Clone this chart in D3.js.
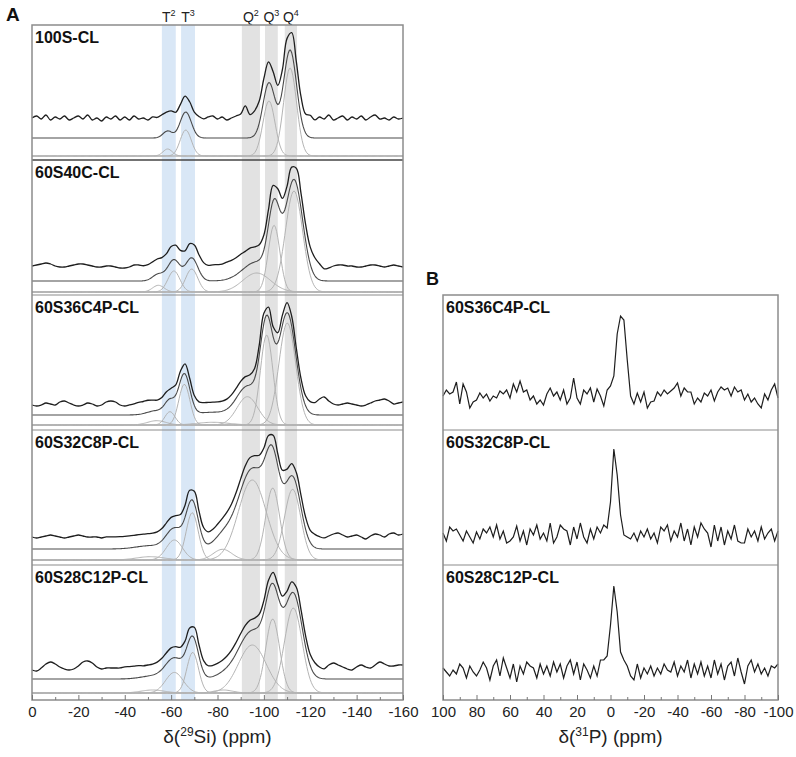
<!DOCTYPE html>
<html>
<head>
<meta charset="utf-8">
<script src="https://cdnjs.cloudflare.com/ajax/libs/d3/7.8.5/d3.min.js"></script>
<style>
  body { margin: 0; background: #fff; }
  text { font-family: "Liberation Sans", Arial, sans-serif; }
</style>
</head>
<body>
<svg width="796" height="757"></svg>
<script>
// ---- data ----
const siSamples = ["100S-CL", "60S40C-CL", "60S36C4P-CL", "60S32C8P-CL", "60S28C12P-CL"];

// fitted components per sample: [ppm, height, width]
const siComponents = [
  [[-58.5, 7, 2.0], [-66.3, 26, 2.4], [-102.2, 55, 2.6], [-111.3, 88, 2.8]],
  [[-54.5, 6.7, 2.5], [-61.2, 21, 2.6], [-68.9, 23, 2.6], [-96.9, 19, 6], [-104.4, 66.7, 2.5], [-113, 101, 3.7]],
  [[-53.8, 4.3, 4], [-59.5, 13.3, 2.2], [-65.7, 40.7, 2.4], [-78, 2.7, 7], [-92.9, 28.3, 4.5], [-101.2, 90, 2.7], [-110.1, 102, 3.6]],
  [[-51, 3.3, 6], [-61.4, 20, 3.5], [-69.1, 47.3, 2.6], [-82.2, 10.7, 4], [-95, 80, 6], [-103.8, 72, 3.0], [-112.4, 70.7, 3.5]],
  [[-52, 3, 5], [-61.4, 20.6, 3.8], [-69.3, 40.6, 2.5], [-82.5, 3, 4], [-95, 48, 6], [-103.8, 74, 3.0], [-112.7, 85, 3.8]]
];

// residual of the measured 29Si spectrum vs the fit, every 2 ppm from 0 to -160
const siResidual = [
  [0,2,-1,3,-2,1,-1,2,-2,0,
   2,-1,3,-2,0,-3,1,-1,2,-2,
   1,-2,2,-1,0,-2,1,0,0,-1,
   1,-1,-3,-4,-4,-2,0,-1,1,2,
   -1,1,-2,0,2,4,12,3,4,2,
   1,1,0,-1,0,0,0,1,0,-1,
   2,-2,1,-1,3,-2,0,2,-2,1,
   -1,2,-2,1,3,-1,0,-2,1,-1,
   0],
  [0,1,2,3,2,0,-1,-1,0,1,
   2,2,1,0,-1,-1,0,0,-1,-2,
   -2,-1,1,1,0,0,0,0,0,0,
   0,0,0,-1,0,0,0,0,0,1,
   1,1,2,2,2,2,1,1,0,0,
   0,0,0,0,0,0,0,0,0,1,
   2,3,1,-3,-2,0,1,1,0,0,
   -1,-1,0,1,1,0,-1,0,1,0,
   -1],
  [0,-1,0,2,1,0,3,4,2,0,
   -1,0,2,1,-1,0,3,4,3,0,
   -1,0,1,2,2,2,1,0,0,0,
   0,0,0,0,0,0,0,0,0,0,
   0,0,0,0,0,0,0,0,0,0,
   0,0,0,0,0,0,0,0,0,0,
   1,2,6,8,4,1,0,1,2,1,
   0,-1,0,2,4,5,6,4,1,2,
   3],
  [0,-1,0,1,2,1,0,-1,0,1,
   2,1,0,0,0,-1,0,0,0,0,
   0,0,0,0,0,0,0,0,0,0,
   0,0,0,0,0,0,0,0,0,0,
   0,0,0,0,0,0,0,0,0,0,
   0,0,0,0,0,0,0,0,0,0,
   0,1,0,-1,1,3,4,2,0,1,
   2,0,-2,1,3,2,0,3,4,2,
   3],
  [-2,-3,0,4,6,4,1,-1,-2,-1,
   2,6,7,5,1,-1,0,0,0,0,
   1,1,1,1,0,0,0,0,0,0,
   0,0,0,0,0,0,0,0,0,0,
   0,0,0,0,0,0,0,0,0,0,
   0,0,0,0,0,0,0,0,0,0,
   0,1,0,-1,3,5,3,1,-1,-2,
   1,3,1,0,3,6,4,2,2,3,
   3]
];

// shaded regions [from ppm, to ppm] and their labels
const siBands = [[-56, -62], [-64.3, -70.3], [-90.5, -98.3], [-100.5, -106], [-109, -114.3]];
const bandLetters = ["T", "T", "Q", "Q", "Q"];
const bandSups = ["2", "3", "2", "3", "4"];

const pSamples = ["60S36C4P-CL", "60S32C8P-CL", "60S28C12P-CL"];
// 31P spectra, every 2 ppm from 100 to -100
const pSpectra = [
  [0,6,2,4,14,-8,12,4,-12,-6,
   -4,3,-2,2,-5,0,-2,5,2,6,
   -2,12,4,15,4,6,-4,0,-8,-4,
   -9,2,8,0,4,-4,6,-8,-2,18,
   -2,-8,6,2,8,-6,7,0,-10,6,
   10,20,62,80,76,36,0,-8,3,-6,
   4,-12,-6,-5,4,0,6,2,5,8,
   13,0,8,4,4,-8,-2,-6,3,0,
   6,-5,4,9,6,8,0,9,4,6,
   -4,2,-6,-2,-8,-12,2,-4,6,12,
   -2],
  [2,-6,8,4,6,0,-6,4,-2,-8,
   3,-4,6,2,8,-2,10,-4,4,-8,
   -6,-2,9,-6,4,-10,6,0,10,-4,
   2,-6,12,-8,-2,10,6,4,-10,8,
   -4,12,-2,-8,6,-4,8,2,10,7,
   33,86,60,20,0,-2,-4,2,-6,4,
   -2,6,-4,2,-8,8,4,10,-6,4,
   -2,12,-6,6,-10,8,-2,12,6,2,
   -12,10,-6,8,-10,4,-4,10,-6,-8,
   -8,6,-2,4,-6,8,-4,2,6,-6,
   4],
  [2,-2,-6,0,-4,6,2,-8,4,-2,
   -6,0,8,2,-10,4,10,-6,12,2,
   -8,6,-12,4,-4,8,4,2,-8,6,
   -4,4,-6,8,-2,6,-8,4,10,-4,
   8,-10,6,0,-8,4,-6,10,10,14,
   45,84,58,18,10,4,-6,-10,6,-8,
   2,-4,4,-6,2,-4,6,0,-2,8,
   -6,4,-2,10,-8,6,-4,8,-6,4,
   -8,10,-4,6,-10,4,8,-6,12,-2,
   -14,4,10,-2,6,-4,2,-6,4,2,
   6]
];

const siTicks = [0, -20, -40, -60, -80, -100, -120, -140, -160];
const pTicks = [100, 80, 60, 40, 20, 0, -20, -40, -60, -80, -100];

// ---- layout ----
const svg = d3.select("svg");
const A = {left: 32, right: 403, top: 25, bottom: 700};
const B = {left: 443, right: 778, top: 295, bottom: 700};
// distance of component / fit / measured baselines above each row bottom
const stackA = [[4, 22, 42], [3, 14, 29], [5, 15, 25], [5, 16, 28], [7, 21, 32]];
const stackB = [34, 30, 30];

const xA = d3.scaleLinear().domain([0, -160]).range([A.left, A.right]);
const xB = d3.scaleLinear().domain([100, -100]).range([B.left, B.right]);
const rowA = d3.scaleBand().domain(siSamples).range([A.top, A.bottom]);
const rowB = d3.scaleBand().domain(pSamples).range([B.top, B.bottom]);

// shaded bands
svg.append("g").selectAll("rect").data(siBands).join("rect")
  .attr("x", d => xA(d[0]))
  .attr("width", d => xA(d[1]) - xA(d[0]))
  .attr("y", A.top).attr("height", A.bottom - A.top)
  .attr("fill", (d, i) => i < 2 ? "#d9e7f6" : "#e2e2e2");

const bl = svg.append("g").selectAll("text").data(siBands).join("text")
  .attr("x", d => xA((d[0] + d[1]) / 2))
  .attr("y", 22)
  .attr("text-anchor", "middle")
  .attr("font-size", 14)
  .attr("fill", "#222");
bl.append("tspan").text((d, i) => bandLetters[i]);
bl.append("tspan").attr("dy", -6).attr("font-size", 9).text((d, i) => bandSups[i]);

const gauss = (x, c) => c[1] * Math.exp(-((x - c[0]) ** 2) / (2 * c[2] * c[2]));
const fineGrid = d3.range(0, -160.001, -0.5);

siSamples.forEach((name, i) => {
  const bottom = rowA(name) + rowA.bandwidth();
  const [oc, of, oe] = stackA[i];
  const yC = d3.scaleLinear().domain([0, 100]).range([bottom - oc, bottom - oc - 100]);
  const yF = d3.scaleLinear().domain([0, 100]).range([bottom - of, bottom - of - 100]);
  const yE = d3.scaleLinear().domain([0, 100]).range([bottom - oe, bottom - oe - 100]);
  const comps = siComponents[i];
  const g = svg.append("g");

  comps.forEach(c => {
    g.append("path")
      .datum(fineGrid.map(x => [x, gauss(x, c)]))
      .attr("fill", "none").attr("stroke", "#b4b4b4").attr("stroke-width", 1)
      .attr("d", d3.line().x(d => xA(d[0])).y(d => yC(d[1])));
  });

  const fitAt = x => d3.sum(comps, c => gauss(x, c));
  g.append("path")
    .datum(fineGrid.map(x => [x, fitAt(x)]))
    .attr("fill", "none").attr("stroke", "#4a4a4a").attr("stroke-width", 1.1)
    .attr("d", d3.line().x(d => xA(d[0])).y(d => yF(d[1])));

  const expPts = siResidual[i].map((r, j) => [-2 * j, fitAt(-2 * j) + r]);
  g.append("path")
    .datum(expPts)
    .attr("fill", "none").attr("stroke", "#1e1e1e").attr("stroke-width", 1.3)
    .attr("d", d3.line().curve(d3.curveCatmullRom).x(d => xA(d[0])).y(d => yE(d[1])));

  g.append("text")
    .attr("x", A.left + 3).attr("y", rowA(name) + 18)
    .attr("font-size", 16).attr("font-weight", "bold").attr("fill", "#111")
    .text(name);
});

pSamples.forEach((name, i) => {
  const bottom = rowB(name) + rowB.bandwidth();
  const y = d3.scaleLinear().domain([0, 100]).range([bottom - stackB[i], bottom - stackB[i] - 100]);
  svg.append("path")
    .datum(pSpectra[i].map((v, j) => [100 - 2 * j, v]))
    .attr("fill", "none").attr("stroke", "#1e1e1e").attr("stroke-width", 1.2)
    .attr("d", d3.line().x(d => xB(d[0])).y(d => y(d[1])));
  svg.append("text")
    .attr("x", B.left + 3).attr("y", rowB(name) + 18)
    .attr("font-size", 16).attr("font-weight", "bold").attr("fill", "#111")
    .text(name);
});

// frames and row separators
function frame(box, rows, first) {
  const g = svg.append("g").attr("fill", "none");
  rows.domain().slice(1).forEach((n, k) => {
    g.append("line")
      .attr("x1", box.left).attr("x2", box.right)
      .attr("y1", rows(n)).attr("y2", rows(n))
      .attr("stroke", k === 0 && first ? "#444" : "#8c8c8c")
      .attr("stroke-width", k === 0 && first ? 1.6 : 1.2);
  });
  g.append("rect")
    .attr("x", box.left).attr("y", box.top)
    .attr("width", box.right - box.left).attr("height", box.bottom - box.top)
    .attr("stroke", "#8c8c8c").attr("stroke-width", 1.5);
}
frame(A, rowA, true);
frame(B, rowB, false);

// axes
function axis(x, ticks, minor, bottom) {
  const g = svg.append("g").attr("transform", `translate(0,${bottom})`);
  g.call(d3.axisBottom(x).tickValues(ticks).tickSize(-5).tickPadding(6).tickFormat(d => String(d)));
  g.append("g").call(d3.axisBottom(x).tickValues(minor).tickSize(-3).tickFormat(""));
  g.selectAll(".domain").remove();
  g.selectAll("line").attr("stroke", "#777");
  g.selectAll("text").attr("font-size", 15).attr("fill", "#222")
    .attr("font-family", "Liberation Sans, Arial, sans-serif");
}
axis(xA, siTicks, d3.range(-10, -160, -20), A.bottom);
axis(xB, pTicks, d3.range(90, -100, -20), B.bottom);

function title(cx, sup, rest) {
  const t = svg.append("text").attr("x", cx).attr("y", 743)
    .attr("text-anchor", "middle").attr("font-size", 19).attr("fill", "#222");
  t.append("tspan").text("δ(");
  t.append("tspan").attr("dy", -7).attr("font-size", 12).text(sup);
  t.append("tspan").attr("dy", 7).text(rest);
}
title((A.left + A.right) / 2, "29", "Si) (ppm)");
title((B.left + B.right) / 2, "31", "P) (ppm)");

svg.append("text").attr("x", 6).attr("y", 21)
  .attr("font-size", 19).attr("font-weight", "bold").attr("fill", "#111").text("A");
svg.append("text").attr("x", 426).attr("y", 285)
  .attr("font-size", 18).attr("font-weight", "bold").attr("fill", "#111").text("B");
</script>
</body>
</html>
